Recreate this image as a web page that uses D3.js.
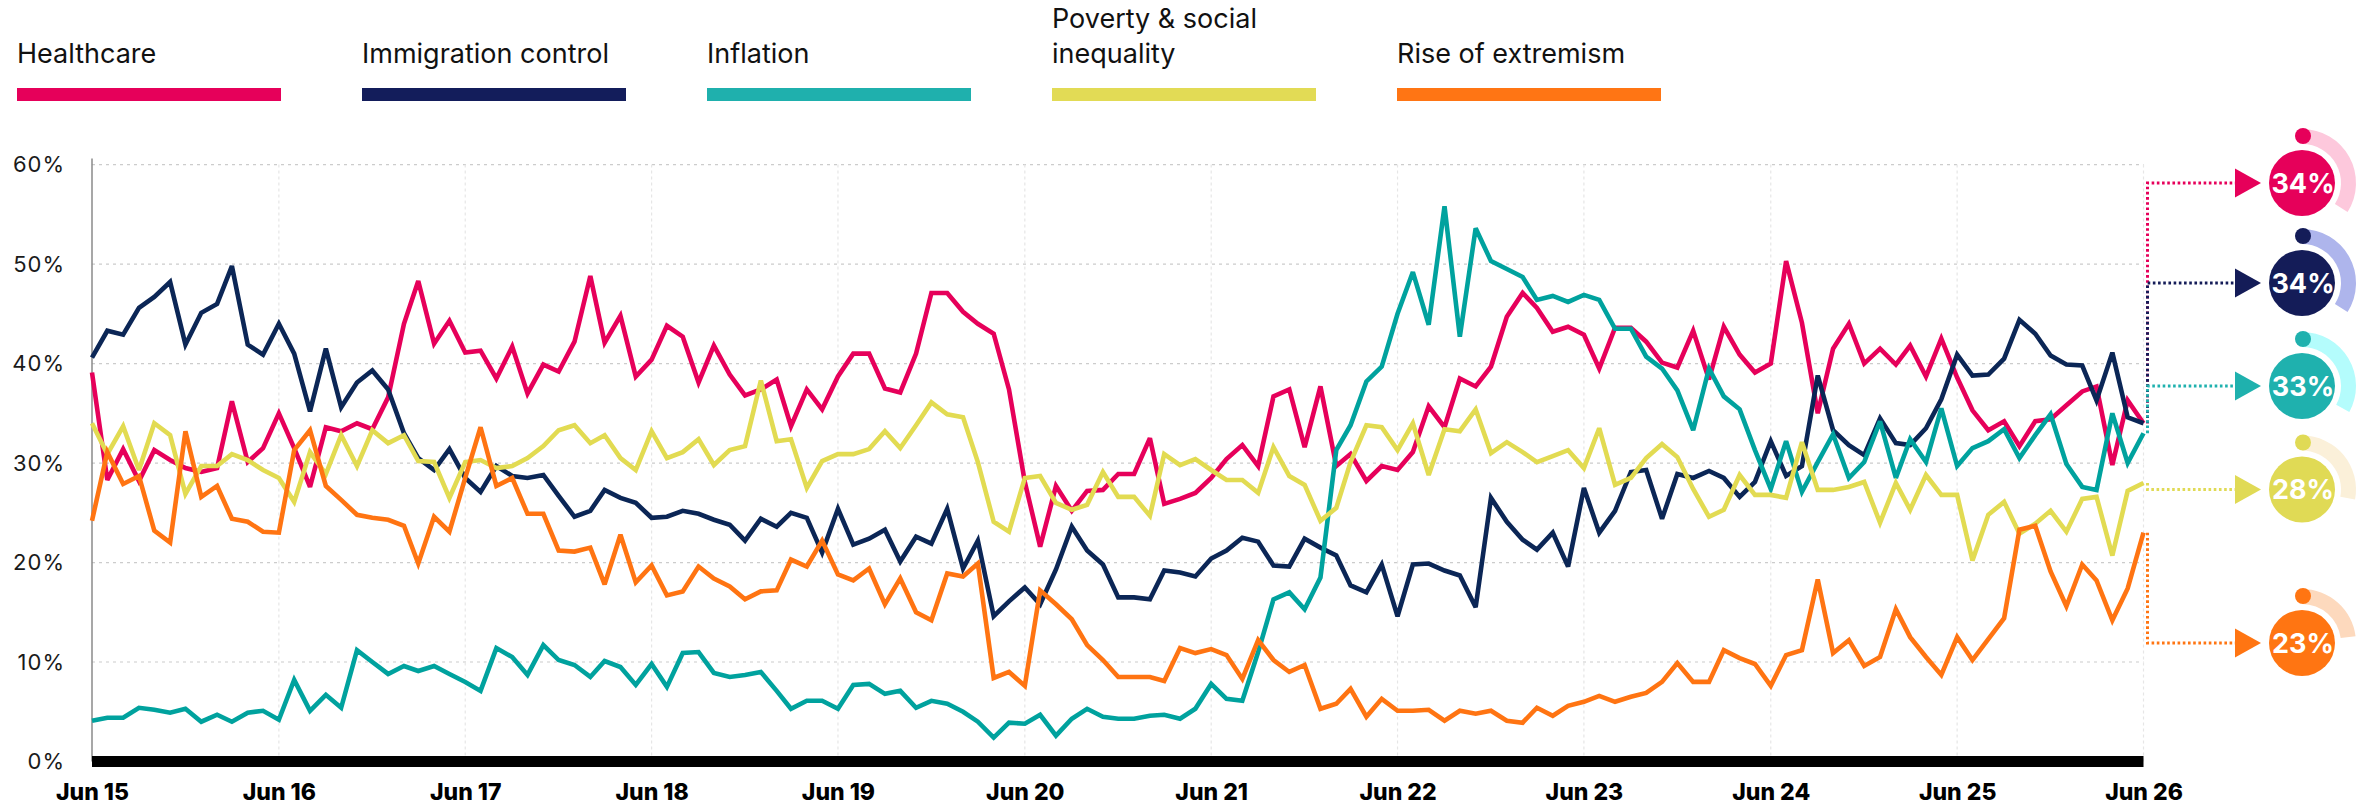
<!DOCTYPE html>
<html>
<head>
<meta charset="utf-8">
<script src="https://cdn.jsdelivr.net/npm/d3@7"></script>
<style>
  html, body { margin: 0; padding: 0; background: #fff; }
  svg { display: block; font-family: Inter, "Noto Sans", sans-serif; }
</style>
</head>
<body>
<svg id="chart" width="2380" height="812"></svg>
<script>
// ---- data: monthly share (%) naming each issue, Jun 2015 – Jun 2026 ----
const categories = ["Healthcare", "Immigration control", "Inflation", "Poverty & social inequality", "Rise of extremism"];
const legendLines = [["Healthcare"], ["Immigration control"], ["Inflation"], ["Poverty & social", "inequality"], ["Rise of extremism"]];

const healthcare = [
  39.1, 28.3, 31.4, 28.2, 31.3, 30.3, 29.5, 29.1, 29.5, 36.2, 30.1, 31.5, 35.0, 31.5, 27.6, 33.6, 33.2, 34.0, 33.4,
  36.6, 44.0, 48.3, 42.0, 44.3, 41.1, 41.3, 38.5, 41.7, 37.0, 39.9, 39.2, 42.2, 48.8, 42.1, 44.8, 38.7, 40.4, 43.8,
  42.7, 38.1, 41.8, 38.9, 36.8, 37.4, 38.4, 33.7, 37.4, 35.4, 38.7, 41.0, 41.0, 37.5, 37.1, 41.0, 47.1, 47.1, 45.2,
  44.0, 43.0, 37.4, 28.1, 21.6, 27.7, 25.2, 27.2, 27.3, 28.9, 28.9, 32.5, 25.9, 26.4, 27.0, 28.5, 30.4, 31.8, 29.7,
  36.7, 37.4, 31.6, 37.7, 29.7, 30.9, 28.2, 29.7, 29.3, 31.1, 35.7, 33.6, 38.5, 37.7, 39.7, 44.7, 47.1, 45.6, 43.2,
  43.7, 42.9, 39.5, 43.6, 43.6, 42.2, 40.1, 39.6, 43.3, 38.4, 43.7, 40.9, 39.1, 40.0, 50.3, 44.1, 35.0, 41.5, 44.0,
  40.0, 41.5, 39.9, 41.8, 38.7, 42.5, 38.6, 35.3, 33.3, 34.2, 31.7, 34.2, 34.4, 35.8, 37.2, 37.7, 29.8, 36.3, 34.0
];
const immigration = [
  40.6, 43.3, 42.9, 45.6, 46.7, 48.2, 41.9, 45.1, 46.0, 49.8, 41.9, 40.9, 44.0, 41.0, 35.2, 41.5, 35.6, 38.1, 39.3,
  37.4, 33.0, 30.5, 29.3, 31.4, 28.5, 27.1, 29.7, 28.7, 28.5, 28.8, 26.7, 24.6, 25.2, 27.3, 26.5, 26.0, 24.5, 24.6,
  25.2, 24.9, 24.3, 23.8, 22.2, 24.4, 23.6, 25.0, 24.5, 21.0, 25.4, 21.8, 22.4, 23.3, 20.1, 22.6, 21.9, 25.4, 19.4,
  22.2, 14.6, 16.1, 17.5, 15.8, 19.3, 23.6, 21.2, 19.8, 16.5, 16.5, 16.3, 19.2, 19.0, 18.6, 20.4, 21.2, 22.5, 22.1,
  19.7, 19.6, 22.4, 21.5, 20.7, 17.7, 17.0, 19.8, 14.6, 19.8, 19.9, 19.2, 18.7, 15.5, 26.5, 24.1, 22.3, 21.3, 23.0,
  19.6, 27.5, 23.0, 25.2, 29.1, 29.3, 24.4, 28.9, 28.5, 29.2, 28.5, 26.6, 28.1, 32.2, 28.7, 29.7, 38.8, 33.3, 31.8,
  30.8, 34.5, 32.0, 31.8, 33.5, 36.4, 40.9, 38.8, 38.9, 40.5, 44.4, 43.0, 40.8, 39.9, 39.8, 36.3, 41.1, 34.6, 34.0
];
const inflation = [
  4.1, 4.4, 4.4, 5.4, 5.2, 4.9, 5.3, 4.0, 4.7, 4.0, 4.9, 5.1, 4.2, 8.2, 5.1, 6.7, 5.4, 11.2, 10.0,
  8.8, 9.6, 9.1, 9.6, 8.8, 8.0, 7.1, 11.4, 10.5, 8.7, 11.7, 10.2, 9.7, 8.5, 10.1, 9.5, 7.7, 9.8, 7.5,
  10.9, 11.0, 8.9, 8.5, 8.7, 9.0, 7.1, 5.3, 6.1, 6.1, 5.3, 7.7, 7.8, 6.8, 7.1, 5.4, 6.1, 5.8, 5.0,
  4.0, 2.4, 3.9, 3.8, 4.7, 2.6, 4.3, 5.3, 4.5, 4.3, 4.3, 4.6, 4.7, 4.3, 5.3, 7.8, 6.3, 6.1, 11.0,
  16.3, 17.0, 15.3, 18.5, 31.3, 33.8, 38.2, 39.7, 45.0, 49.2, 43.9, 55.8, 42.7, 53.6, 50.3, 49.5, 48.7, 46.4, 46.8,
  46.2, 46.9, 46.4, 43.5, 43.5, 40.7, 39.5, 37.3, 33.3, 39.5, 36.7, 35.4, 31.3, 27.4, 32.2, 27.1, 30.1, 32.9, 28.5,
  30.1, 34.2, 28.5, 32.4, 30.1, 35.5, 29.7, 31.5, 32.2, 33.4, 30.5, 32.8, 34.9, 29.9, 27.6, 27.3, 35.0, 30.0, 33.0
];
const poverty = [
  34.0, 30.9, 33.7, 29.3, 34.0, 32.8, 26.9, 29.7, 29.7, 30.9, 30.3, 29.3, 28.5, 26.1, 31.1, 28.9, 32.8, 29.7, 33.3,
  32.0, 32.8, 30.2, 30.1, 26.5, 30.1, 30.3, 29.5, 29.7, 30.5, 31.7, 33.3, 33.8, 32.0, 32.8, 30.5, 29.3, 33.2, 30.5,
  31.1, 32.4, 29.8, 31.3, 31.7, 38.3, 32.2, 32.4, 27.5, 30.2, 30.9, 30.9, 31.4, 33.2, 31.5, 33.8, 36.1, 34.9, 34.6,
  30.1, 24.1, 23.1, 28.5, 28.7, 26.0, 25.3, 25.8, 29.1, 26.6, 26.6, 24.7, 30.9, 29.8, 30.4, 29.3, 28.3, 28.3, 27.0,
  31.6, 28.7, 27.8, 24.2, 25.5, 30.1, 33.8, 33.6, 31.3, 34.0, 28.8, 33.4, 33.2, 35.4, 31.0, 32.1, 31.1, 30.1, 30.7,
  31.3, 29.5, 33.5, 27.8, 28.5, 30.5, 31.9, 30.6, 27.4, 24.6, 25.3, 28.8, 26.8, 26.8, 26.5, 32.1, 27.3, 27.3, 27.6,
  28.1, 24.0, 28.0, 25.3, 28.8, 26.8, 26.8, 20.2, 24.8, 26.1, 22.9, 23.9, 25.2, 23.1, 26.4, 26.6, 20.7, 27.2, 28.0
];
const extremism = [
  24.2, 31.1, 27.9, 28.7, 23.2, 22.0, 33.2, 26.6, 27.7, 24.4, 24.1, 23.1, 23.0, 31.3, 33.3, 27.7, 26.3, 24.8, 24.5,
  24.3, 23.7, 19.9, 24.6, 23.1, 28.5, 33.6, 27.7, 28.5, 24.9, 24.9, 21.2, 21.1, 21.5, 17.8, 22.8, 18.0, 19.7, 16.7,
  17.1, 19.6, 18.4, 17.6, 16.3, 17.1, 17.2, 20.3, 19.6, 22.2, 18.8, 18.2, 19.4, 15.8, 18.4, 15.0, 14.2, 18.9, 18.6,
  19.9, 8.4, 9.0, 7.6, 17.2, 15.8, 14.3, 11.7, 10.2, 8.5, 8.5, 8.5, 8.1, 11.4, 10.9, 11.3, 10.7, 8.3, 12.2,
  10.2, 9.0, 9.7, 5.3, 5.8, 7.3, 4.5, 6.3, 5.1, 5.1, 5.2, 4.1, 5.1, 4.8, 5.1, 4.1, 3.9, 5.4, 4.6,
  5.6, 6.0, 6.6, 6.0, 6.5, 6.9, 8.0, 9.9, 8.0, 8.0, 11.2, 10.4, 9.8, 7.6, 10.7, 11.2, 18.3, 10.9, 12.2,
  9.6, 10.5, 15.3, 12.5, 10.5, 8.7, 12.5, 10.2, 12.3, 14.4, 23.3, 23.7, 19.1, 15.6, 19.8, 18.2, 14.2, 17.4, 23.0
];
const seriesValues = [healthcare, immigration, inflation, poverty, extremism];

const yTicks = [0, 10, 20, 30, 40, 50, 60];
const xTickLabels = ["Jun 15", "Jun 16", "Jun 17", "Jun 18", "Jun 19", "Jun 20", "Jun 21", "Jun 22", "Jun 23", "Jun 24", "Jun 25", "Jun 26"];

// ---- styling ----
const lineColors   = ["#e6005a", "#0b2656", "#00a29e", "#e2db52", "#ff7412"];
const swatchColors = ["#e6005a", "#131d5b", "#1fb0ad", "#e2db55", "#ff7514"];
const badgeColors  = ["#e6005a", "#141c58", "#1fb1ae", "#e0da55", "#ff7512"];
const ringColors   = ["#fdc8dc", "#aeb5ec", "#b4fcfc", "#fbf0d9", "#fdd9bd"];
const badgeCenterY = [183, 283, 386, 489.5, 643];

const svg = d3.select("#chart");
const plotLeft = 92, plotRight = 2143.5, plotTop = 164.6, plotBottom = 761.5;

const start = new Date(2015, 5, 1);
const months = d3.timeMonth.range(start, d3.timeMonth.offset(start, healthcare.length));
const x = d3.scaleTime().domain([start, months[months.length - 1]]).range([plotLeft, plotRight]);
const y = d3.scaleLinear().domain([0, 60]).range([plotBottom, plotTop]);
const juneTicks = xTickLabels.map((_, i) => new Date(2015 + i, 5, 1));

// horizontal gridlines
svg.append("g")
  .selectAll("line")
  .data(yTicks.filter(d => d > 0))
  .join("line")
  .attr("x1", plotLeft).attr("x2", plotRight)
  .attr("y1", d => y(d)).attr("y2", d => y(d))
  .attr("stroke", "#cccccc").attr("stroke-width", 1.2)
  .attr("stroke-dasharray", "3 4");

// vertical year gridlines
svg.append("g")
  .selectAll("line")
  .data(juneTicks.slice(1))
  .join("line")
  .attr("x1", d => x(d)).attr("x2", d => x(d))
  .attr("y1", plotTop).attr("y2", plotBottom)
  .attr("stroke", "#e6e6e6").attr("stroke-width", 1.2)
  .attr("stroke-dasharray", "3 3");

// left axis line
svg.append("line")
  .attr("x1", plotLeft).attr("x2", plotLeft)
  .attr("y1", plotTop - 6).attr("y2", plotBottom)
  .attr("stroke", "#8a8a8a").attr("stroke-width", 1.5);

// y tick labels
const yAxis = svg.append("g")
  .attr("transform", "translate(65,0)")
  .call(d3.axisLeft(y).tickValues(yTicks).tickFormat(d => d + "%").tickSize(0).tickPadding(0));
yAxis.select(".domain").remove();
yAxis.selectAll("text")
  .attr("font-family", "Inter, sans-serif")
  .attr("font-size", 22)
  .attr("letter-spacing", "1px")
  .attr("fill", "#1a1a1a");

// x axis labels
const xAxis = svg.append("g")
  .attr("transform", `translate(0,${plotBottom})`)
  .call(d3.axisBottom(x).tickValues(juneTicks).tickFormat((d, i) => xTickLabels[i]).tickSize(0).tickPadding(22));
xAxis.select(".domain").remove();
xAxis.selectAll("text")
  .attr("font-family", "Inter, sans-serif")
  .attr("font-size", 23)
  .attr("font-weight", 800)
  .attr("fill", "#000");

// series lines
const line = d3.line()
  .x((d, i) => x(months[i]))
  .y(d => y(d));

svg.append("g")
  .selectAll("path")
  .data(seriesValues)
  .join("path")
  .attr("d", d => line(d))
  .attr("fill", "none")
  .attr("stroke", (d, i) => lineColors[i])
  .attr("stroke-width", 4.6)
  .attr("stroke-linejoin", "miter")
  .attr("stroke-miterlimit", 3);

// baseline bar
svg.append("rect")
  .attr("x", plotLeft).attr("y", y(0) - 5.5)
  .attr("width", plotRight - plotLeft).attr("height", 11)
  .attr("fill", "#000");

// legend
const legend = svg.append("g")
  .selectAll("g")
  .data(categories)
  .join("g")
  .attr("transform", (d, i) => `translate(${17 + i * 345},0)`);

legend.append("rect")
  .attr("x", 0).attr("y", 88)
  .attr("width", 264).attr("height", 13)
  .attr("fill", (d, i) => swatchColors[i]);

legend.each(function (d, i) {
  const lines = legendLines[i];
  const t = d3.select(this).append("text")
    .attr("font-family", "Inter, sans-serif")
    .attr("font-size", 27)
    .attr("fill", "#111");
  lines.forEach((s, k) => {
    t.append("tspan")
      .attr("x", 0)
      .attr("y", 63 - (lines.length - 1 - k) * 35)
      .text(s);
  });
});

// end-of-line connectors and value badges
const lastValues = seriesValues.map(v => v[v.length - 1]);
const connectorX = plotRight + 4;
const arrowLeft = 2235, arrowTip = 2261;
const badgeX = 2302;
const arc = d3.arc().innerRadius(39).outerRadius(54);

const badges = svg.append("g")
  .selectAll("g")
  .data(lastValues)
  .join("g");

badges.append("path")
  .attr("d", (v, i) => `M${connectorX},${y(v)}V${badgeCenterY[i]}H${arrowLeft}`)
  .attr("fill", "none")
  .attr("stroke", (v, i) => badgeColors[i])
  .attr("stroke-width", 3)
  .attr("stroke-dasharray", "2.6 2.6");

badges.append("path")
  .attr("d", (v, i) => {
    const cy = badgeCenterY[i];
    return `M${arrowLeft},${cy - 14.5}L${arrowTip},${cy}L${arrowLeft},${cy + 14.5}Z`;
  })
  .attr("fill", (v, i) => badgeColors[i]);

badges.append("path")
  .attr("transform", (v, i) => `translate(${badgeX},${badgeCenterY[i]})`)
  .attr("d", v => arc({ startAngle: 0, endAngle: Math.round(v) / 100 * 2 * Math.PI }))
  .attr("fill", (v, i) => ringColors[i]);

badges.append("circle")
  .attr("cx", badgeX + 1)
  .attr("cy", (v, i) => badgeCenterY[i] - 47)
  .attr("r", 8)
  .attr("fill", (v, i) => badgeColors[i]);

badges.append("circle")
  .attr("cx", badgeX)
  .attr("cy", (v, i) => badgeCenterY[i])
  .attr("r", 33)
  .attr("fill", (v, i) => badgeColors[i]);

badges.append("text")
  .attr("x", badgeX + 1)
  .attr("y", (v, i) => badgeCenterY[i])
  .attr("dy", "0.36em")
  .attr("text-anchor", "middle")
  .attr("font-family", "Inter, sans-serif")
  .attr("font-size", 27)
  .attr("font-weight", 700)
  .attr("fill", "#fff")
  .text(v => Math.round(v) + "%");
</script>
</body>
</html>
